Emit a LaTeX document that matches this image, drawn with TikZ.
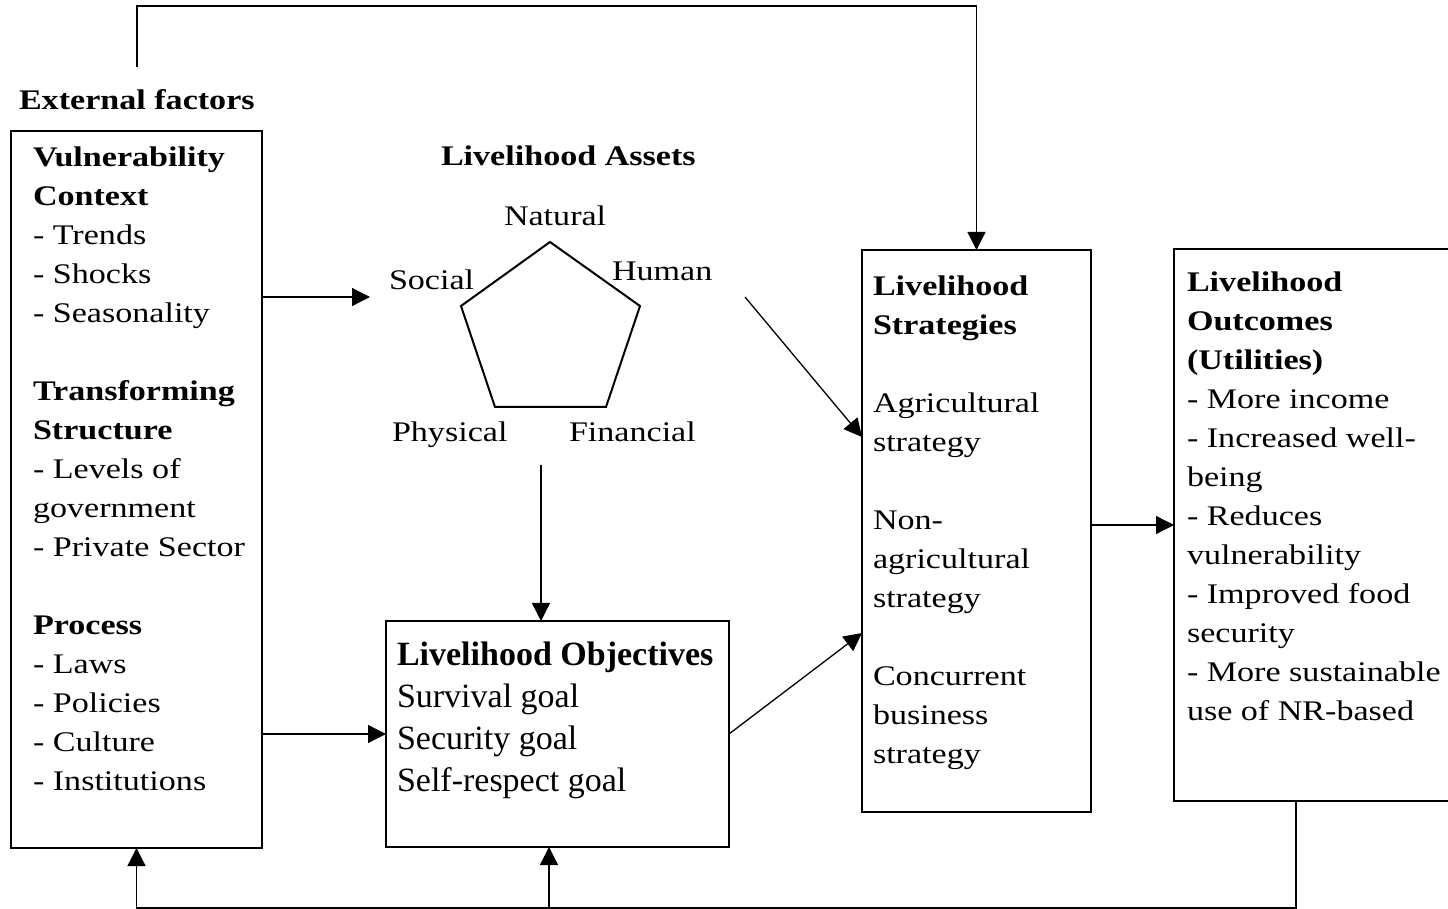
\documentclass[tikz,border=0pt]{standalone}
\usepackage{fontspec}
\setmainfont{Liberation Serif}
\newfontfamily\widefont{Liberation Serif}[FakeStretch=1.2]
\newfontfamily\plainfont{Liberation Serif}
\usetikzlibrary{arrows.meta}

\tikzset{
  txt/.style={font=\widefont\fontsize{14.2}{19.5}\selectfont, inner sep=0pt, outer sep=0pt},
  objtxt/.style={font=\plainfont\fontsize{17}{20.85}\selectfont, inner sep=0pt, outer sep=0pt},
  box/.style={draw, line width=1pt, inner sep=0pt, outer sep=0pt},
  conn/.style={line width=0.65pt},
  arr/.style={conn, -{Triangle[length=9pt,width=9pt]}},
}

\begin{document}
\begin{tikzpicture}[x=0.5pt,y=-0.5pt]
\useasboundingbox (0,0) rectangle (1448,909);

% boxes
\node[box, minimum width=125.5pt, minimum height=358.5pt] (vc) at (136.5,489.5) {};
\node[box, minimum width=171.5pt, minimum height=113pt] (obj) at (557.5,734) {};
\node[box, minimum width=114.5pt, minimum height=281pt] (strat) at (976.5,531) {};
\node[box, minimum width=138pt, minimum height=276pt] (out) at (1312,525) {};

% headings
\node[txt, anchor=base west] (ext) at (19,110) {\textbf{External factors}};
\node[txt, anchor=base west] (assets) at (441,166) {\textbf{Livelihood Assets}};

% external factors
\node[txt, align=left, anchor=north west] (vctext) at (33,138.7) {\strut\textbf{Vulnerability}\\
  \textbf{Context}\\
  - Trends\\
  - Shocks\\
  - Seasonality\\[19.5pt]
  \textbf{Transforming}\\
  \textbf{Structure}\\
  - Levels of\\
  government\\
  - Private Sector\\[19.5pt]
  \textbf{Process}\\
  - Laws\\
  - Policies\\
  - Culture\\
  - Institutions};

% asset pentagon
\coordinate (p1) at (550,242);
\coordinate (p2) at (640,306);
\coordinate (p3) at (606,407);
\coordinate (p4) at (495,407);
\coordinate (p5) at (461,306);
\draw[line width=1pt, line join=miter] (p1) -- (p2) -- (p3) -- (p4) -- (p5) -- cycle;
\node[txt, anchor=base west] (natural) at (504,226) {Natural};
\node[txt, anchor=base west] (social) at (389,290) {Social};
\node[txt, anchor=base west] (human) at (612,281) {Human};
\node[txt, anchor=base west] (physical) at (392,442) {Physical};
\node[txt, anchor=base west] (financial) at (569,442) {Financial};

% objectives
\node[objtxt, align=left, anchor=north west] (objtext) at (397,636.8) {\strut\textbf{Livelihood Objectives}\\
  Survival goal\\
  Security goal\\
  Self-respect goal};

% strategies
\node[txt, align=left, anchor=north west] (strattext) at (873,267.7) {\strut\textbf{Livelihood}\\
  \textbf{Strategies}\\[19.5pt]
  Agricultural\\
  strategy\\[19.5pt]
  Non-\\
  agricultural\\
  strategy\\[19.5pt]
  Concurrent\\
  business\\
  strategy};

% outcomes
\node[txt, align=left, anchor=north west] (outtext) at (1187,264.6) {\strut\textbf{Livelihood}\\
  \textbf{Outcomes}\\
  \textbf{(Utilities)}\\
  - More income\\
  - Increased well-\\
  being\\
  - Reduces\\
  vulnerability\\
  - Improved food\\
  security\\
  - More sustainable\\
  use of NR-based};

% connector end points
\coordinate (a1) at (370,297);
\coordinate (a3) at (541,465);
\coordinate (a4) at (745,297);
\coordinate (a5) at (862,437);
\coordinate (a6) at (862,633);
\coordinate (t0) at (137,67);
\coordinate (tc) at (0,6);
\coordinate (bx) at (1296,908);
\coordinate (bj) at (549,908);

% connectors
\draw[arr] (vc.east |- a1) -- (a1);
\draw[arr] (vc.east |- obj.west) -- (obj.west);
\draw[arr] (a3) -- (a3 |- obj.north);
\draw[arr] (a4) -- (a5);
\draw[arr] (obj.east) -- (a6);
\draw[arr] (strat.east |- out.west) -- (out.west);
\draw[arr] (t0) -- (t0 |- tc) -| (strat.north);
\draw[arr] (bx |- out.south) -- (bx) -| (vc.south);
\draw[arr] (bj) -- (bj |- obj.south);
\end{tikzpicture}
\end{document}
